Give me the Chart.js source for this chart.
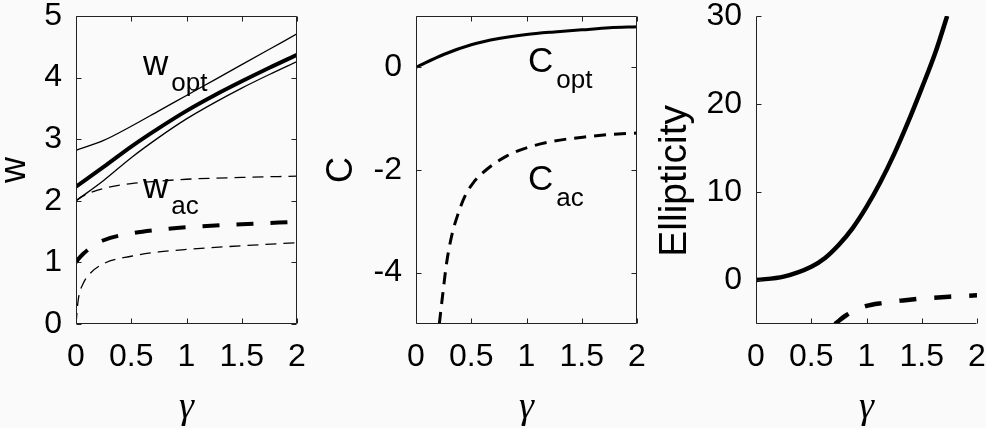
<!DOCTYPE html>
<html>
<head>
<meta charset="utf-8">
<script src="https://cdn.jsdelivr.net/npm/chart.js@4/dist/chart.umd.min.js"></script>
<style>
  html, body { margin: 0; padding: 0; background: #fafafa; }
  #wrap { position: relative; width: 986px; height: 428px; overflow: hidden; }
  canvas { position: absolute; top: 0; }
</style>
</head>
<body>
<div id="wrap">
  <canvas id="c1" width="320" height="428" style="left:0px"></canvas>
  <canvas id="c2" width="340" height="428" style="left:320px"></canvas>
  <canvas id="c3" width="330" height="428" style="left:656px"></canvas>
</div>
<script>
// gamma ticks shared by all panels
const gammaTicks = [0, 0.5, 1, 1.5, 2];

// panel 1: w
const gW = [0, 0.25, 0.5, 0.75, 1, 1.25, 1.5, 1.75, 2];
const wTop = [2.82, 2.98, 3.21, 3.46, 3.71, 3.96, 4.21, 4.46, 4.71];
const wOpt = [2.23, 2.55, 2.88, 3.18, 3.46, 3.71, 3.94, 4.16, 4.37];
const wLow = [2.0, 2.33, 2.70, 3.03, 3.33, 3.59, 3.83, 4.05, 4.26];
const gWac = [0, 0.02, 0.066, 0.127, 0.25, 0.5, 0.75, 1, 1.5, 2];
const wacTop = [2.0, 2.03, 2.08, 2.13, 2.2, 2.28, 2.32, 2.35, 2.38, 2.40];
const wAc = [1.0, 1.05, 1.14, 1.23, 1.36, 1.47, 1.53, 1.57, 1.62, 1.66];
const wacLow = [0, 0.39, 0.66, 0.82, 0.98, 1.10, 1.17, 1.21, 1.27, 1.32];
const wTicks = [0, 1, 2, 3, 4, 5];

// panel 2: C
const gCopt = [0, 0.25, 0.5, 0.75, 1, 1.25, 1.5, 1.75, 2];
const cOpt = [0, 0.25, 0.44, 0.56, 0.64, 0.69, 0.73, 0.77, 0.79];
const gCac = [0.211, 0.247, 0.277, 0.322, 0.383, 0.443, 0.518, 0.639, 0.819, 1.0, 1.24, 1.51, 1.75, 2.0];
const cAc = [-5, -4.33, -3.81, -3.29, -2.84, -2.51, -2.25, -1.99, -1.73, -1.57, -1.44, -1.36, -1.31, -1.28];
const cTicks = [-4, -2, 0];

// panel 3: ellipticity
const gEopt = [0, 0.25, 0.5, 0.625, 0.75, 0.875, 1, 1.125, 1.25, 1.375, 1.5, 1.625, 1.73];
const eOpt = [0, 0.38, 1.5, 2.5, 4.0, 5.9, 8.3, 11.1, 14.3, 17.9, 21.8, 25.9, 30];
const gEac = [0.714, 0.82, 1.0, 1.15, 1.33, 1.51, 1.75, 2.0];
const eAc = [-5, -3.98, -2.95, -2.6, -2.32, -2.1, -1.9, -1.74];
const eTicks = [0, 10, 20, 30];

const sans = '"Liberation Sans", Arial, Helvetica, sans-serif';

function pts(xs, ys) {
    return xs.map((v, i) => ({ x: v, y: ys[i] }));
}

function line(xs, ys, width, dash) {
    return {
        data: pts(xs, ys),
        borderColor: '#000',
        borderWidth: width,
        borderDash: dash || [],
        pointRadius: 0,
        cubicInterpolationMode: 'monotone',
        fill: false
    };
}

// box + inward tick marks
const frame = {
    id: 'frame',
    afterDraw(chart, args, opts) {
        const { ctx, chartArea: a, scales: { x, y } } = chart;
        const L = Math.round(a.left) + 0.5, R = Math.round(a.right) - 0.5;
        const T = Math.round(a.top) + 0.5, B = Math.round(a.bottom) - 0.5;
        ctx.save();
        ctx.strokeStyle = '#222';
        ctx.lineWidth = 1;
        ctx.beginPath();
        ctx.moveTo(L, T); ctx.lineTo(L, B); ctx.lineTo(R, B);
        if (opts.box) { ctx.lineTo(R, T); ctx.lineTo(L, T); }
        x.ticks.forEach(t => {
            const p = Math.round(x.getPixelForValue(t.value)) + 0.5;
            ctx.moveTo(p, B); ctx.lineTo(p, B - 5);
            if (opts.box) { ctx.moveTo(p, T); ctx.lineTo(p, T + 5); }
        });
        y.ticks.forEach(t => {
            const p = Math.round(y.getPixelForValue(t.value)) + 0.5;
            ctx.moveTo(L, p); ctx.lineTo(L + 5, p);
            if (opts.box) { ctx.moveTo(R, p); ctx.lineTo(R - 5, p); }
        });
        ctx.stroke();
        ctx.restore();
    }
};

// curve names with subscripts, placed in data units
const names = {
    id: 'names',
    afterDraw(chart, args, opts) {
        const { ctx, scales: { x, y } } = chart;
        ctx.save();
        ctx.fillStyle = '#000';
        ctx.textBaseline = 'alphabetic';
        (opts.items || []).forEach(it => {
            const px = x.getPixelForValue(it.x), py = y.getPixelForValue(it.y);
            ctx.font = '35px ' + sans;
            ctx.fillText(it.text, px, py);
            const w = ctx.measureText(it.text).width;
            ctx.font = '26px ' + sans;
            ctx.fillText(it.sub, px + w + 3, py + 16);
        });
        ctx.restore();
    }
};

// label gap done with invisible tick marks so chart.js adds no extra edge padding
function gap(len) {
    return { display: true, drawOnChartArea: false, drawTicks: true, tickLength: len, tickColor: 'rgba(0,0,0,0)' };
}

function makeChart(id, datasets, yMin, yMax, yTicks, yTitle, titleSize, yWidth, yTitlePad, padRight, box, items) {
    return new Chart(document.getElementById(id), {
        type: 'line',
        data: { datasets: datasets },
        options: {
            responsive: false,
            animation: false,
            layout: { padding: { top: 16, right: padRight, left: 0, bottom: 0 } },
            plugins: {
                legend: { display: false },
                tooltip: { enabled: false },
                frame: { box: box },
                names: { items: items }
            },
            scales: {
                x: {
                    type: 'linear',
                    min: 0, max: 2,
                    afterBuildTicks: s => { s.ticks = gammaTicks.map(v => ({ value: v })); },
                    afterFit: s => { s.height = 104; },
                    grid: gap(17),
                    border: { display: false },
                    ticks: {
                        color: '#000', padding: 0, autoSkip: false, maxRotation: 0,
                        font: { family: sans, size: 32, lineHeight: 1 },
                        callback: v => String(v)
                    },
                    title: {
                        display: true, text: 'γ', color: '#000',
                        font: { family: '"Liberation Serif", "DejaVu Serif", serif', size: 38, style: 'italic', lineHeight: 1 },
                        padding: { top: 0, bottom: 1 }
                    }
                },
                y: {
                    type: 'linear',
                    min: yMin, max: yMax,
                    afterBuildTicks: s => { s.ticks = yTicks.map(v => ({ value: v })); },
                    afterFit: s => { s.width = yWidth; },
                    grid: gap(14),
                    border: { display: false },
                    ticks: {
                        color: '#000', padding: 0, autoSkip: false,
                        font: { family: sans, size: 32, lineHeight: 1 },
                        callback: v => String(v)
                    },
                    title: {
                        display: true, text: yTitle, color: '#000',
                        font: { family: sans, size: titleSize, lineHeight: 1 },
                        padding: { top: yTitlePad, bottom: 0 }
                    }
                }
            }
        },
        plugins: [frame, names]
    });
}

makeChart('c1', [
    line(gW, wTop, 1.3),
    line(gW, wOpt, 4),
    line(gW, wLow, 1.3),
    line(gWac, wacTop, 1.3, [11, 7]),
    line(gWac, wAc, 4, [17, 17]),
    line(gWac, wacLow, 1.3, [11, 7])
], 0, 5, wTicks, 'w', 36, 76, -3, 23, true, [
    { text: 'w', sub: 'opt', x: 0.606, y: 4.04 },
    { text: 'w', sub: 'ac', x: 0.606, y: 2.045 }
]);

makeChart('c2', [
    line(gCopt, cOpt, 3),
    line(gCac, cAc, 3, [12, 8])
], -5, 1, cTicks, 'C', 36, 96, 4, 23, true, [
    { text: 'C', sub: 'opt', x: 1.013, y: -0.10 },
    { text: 'C', sub: 'ac', x: 1.013, y: -2.38 }
]);

// trailing spaces push the rotated label down a little, as in the original
makeChart('c3', [
    line(gEopt, eOpt, 4.5),
    line(gEac, eAc, 4.5, [17, 18])
], -5, 30, eTicks, 'Ellipticity  ', 39, 100, 0, 9, false, []);
</script>
</body>
</html>
